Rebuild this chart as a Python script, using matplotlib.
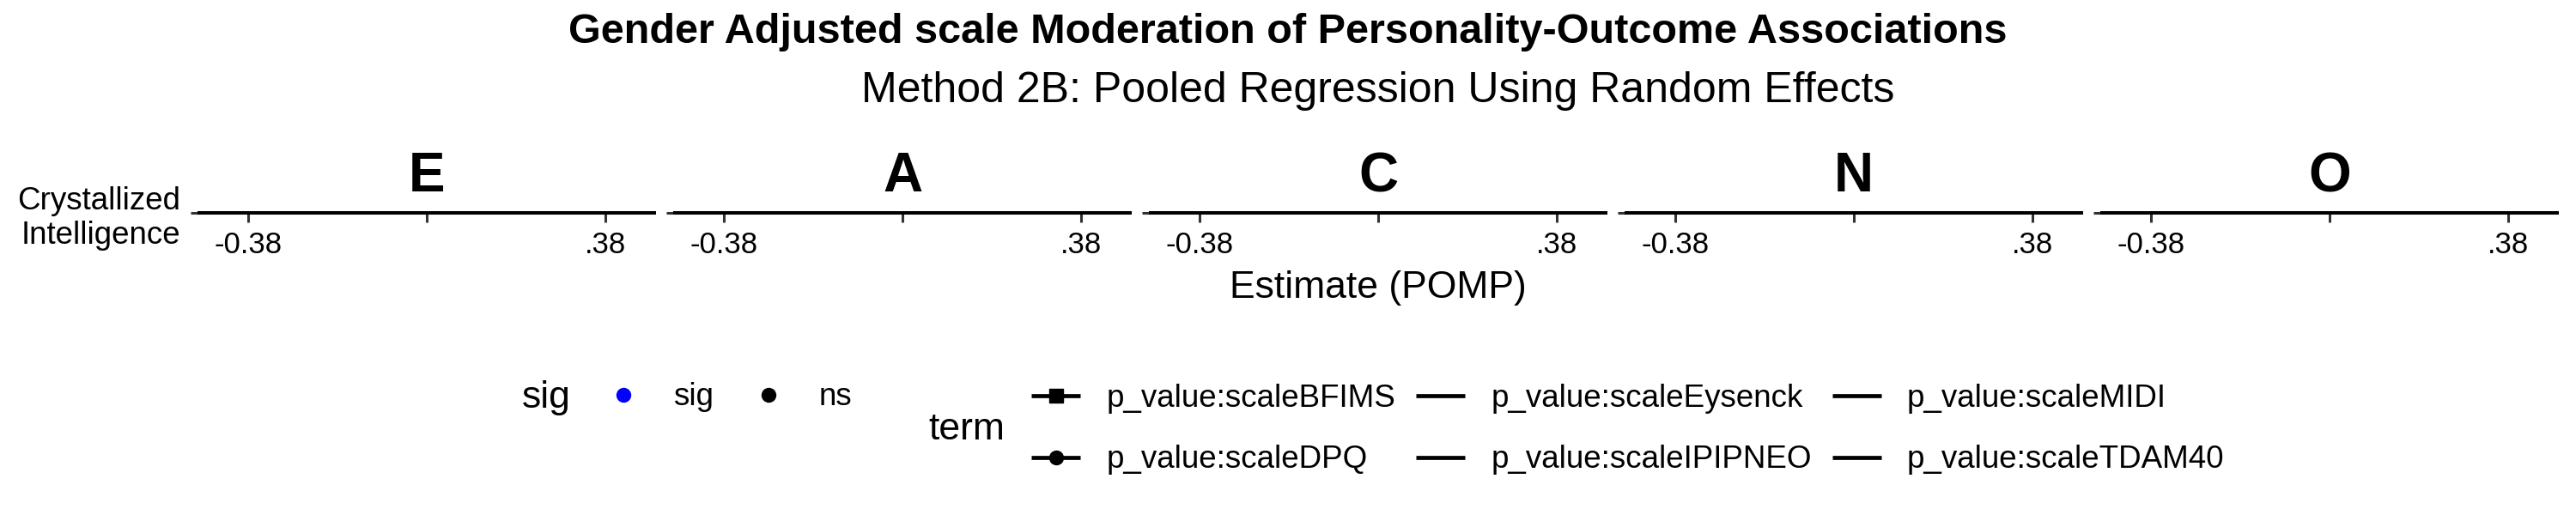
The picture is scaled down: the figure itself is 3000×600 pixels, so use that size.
import matplotlib
matplotlib.use("Agg")
import matplotlib.pyplot as plt
from matplotlib.lines import Line2D

plt.rcParams['font.family'] = ['Liberation Sans', 'DejaVu Sans']

# chart content
traits = ["E", "A", "C", "N", "O"]
outcomes = ["Crystallized\nIntelligence"]
x_ticks = [-0.38, 0.0, 0.38]
x_ticklabels = ["-0.38", "", ".38"]
x_limits = (-0.485, 0.485)
sig_levels = ["sig", "ns"]
sig_colors = ["#0000ff", "#000000"]
terms = ["p_value:scaleBFIMS", "p_value:scaleDPQ", "p_value:scaleEysenck",
         "p_value:scaleIPIPNEO", "p_value:scaleMIDI", "p_value:scaleTDAM40"]
term_markers = ["s", "o", None, None, None, None]

title = "Gender Adjusted scale Moderation of Personality-Outcome Associations"
subtitle = "Method 2B: Pooled Regression Using Random Effects"
x_title = "Estimate (POMP)"

W, H = 3000, 600
fig = plt.figure(figsize=(30, 6), dpi=100)


def fx(px):
    return px / W


def fy(py):
    # pixel from top -> figure fraction
    return 1 - py / H


panel_left, panel_w, panel_gap = 232, 530, 24
axis_y = 248

axes = []
for i, trait in enumerate(traits):
    left = panel_left + i * (panel_w + panel_gap)
    ax = fig.add_axes([fx(left), fy(axis_y), fx(panel_w), 1 / H])
    ax.set_xlim(*x_limits)
    ax.set_ylim(-1, 1)
    ax.set_xticks(x_ticks)
    ax.set_xticklabels(x_ticklabels)
    ax.set_yticks([0])
    ax.set_yticklabels(outcomes if i == 0 else [""])
    for s in ["top", "right", "left"]:
        ax.spines[s].set_visible(False)
    ax.spines["bottom"].set_linewidth(2.9)
    ax.spines["bottom"].set_color("black")
    ax.tick_params(axis="x", length=7.8, width=2.2, color="#333333",
                   labelsize=25, labelcolor="black", pad=7)
    ax.tick_params(axis="y", length=7.5, width=2.2, color="#333333",
                   labelsize=26.5, labelcolor="black", pad=8)
    ax.patch.set_visible(False)
    ax.set_title(trait, fontsize=46, fontweight="bold", pad=17)
    axes.append(ax)

center_x = panel_left + (5 * panel_w + 4 * panel_gap) / 2

fig.text(0.5, fy(50), title, fontsize=35, fontweight="bold",
         ha="center", va="baseline")
fig.text(fx(center_x), fy(119), subtitle, fontsize=36,
         ha="center", va="baseline")
fig.text(fx(center_x), fy(347), x_title, fontsize=32,
         ha="center", va="baseline")

leg_kw = dict(frameon=False, fontsize=26.5, handlelength=1.55,
              handletextpad=0.82, borderpad=0, borderaxespad=0)

# legend: sig
sig_handles = [Line2D([], [], linestyle="none", marker="o", markersize=11.5,
                      color=c) for c in sig_colors]
fig.legend(sig_handles, sig_levels, loc="center left",
           bbox_to_anchor=(fx(697), fy(463)), ncol=2, columnspacing=0.95,
           **leg_kw)
fig.text(fx(608), fy(463), "sig", fontsize=32, ha="left", va="center")

# legend: term
term_handles = [Line2D([], [], color="black", linewidth=3.4, marker=m,
                       markersize=11.5, solid_capstyle="butt")
                for m in term_markers]
fig.legend(term_handles, terms, loc="center left",
           bbox_to_anchor=(fx(1201), fy(500)), ncol=3, labelspacing=1.0,
           columnspacing=0.65, **leg_kw)
fig.text(fx(1081), fy(500), "term", fontsize=32, ha="left", va="center")

fig.savefig("out.png", dpi=100, facecolor="white")
